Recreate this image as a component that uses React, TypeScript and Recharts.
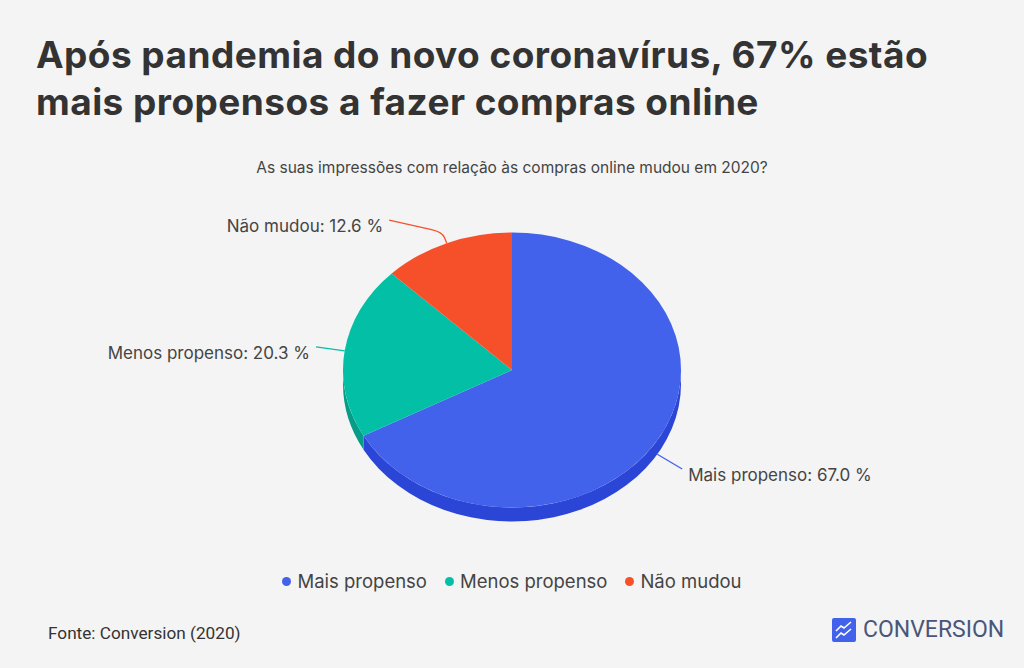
import React from 'react';
import { PieChart, Pie, Legend } from 'recharts';

// survey answers (percent)
const categories = ['Mais propenso', 'Menos propenso', 'Não mudou'];
const shares = [67.0, 20.3, 12.6];
const topColors = ['#4262EC', '#03BFA6', '#F6502B'];
const sideColors = ['#2B45D6', '#079C88', '#D63F1E'];

const data = categories.map((name, i) => ({
  name,
  value: shares[i],
  fill: topColors[i],
  side: sideColors[i],
}));

const RAD = Math.PI / 180;
const TILT = 0.8136; // vertical squash of the pie
const DEPTH = 14; // height of the 3d rim
const textColor = '#444444';

const EllipseSector = (props: any) => {
  const { cx, cy, outerRadius, startAngle, endAngle, fill } = props;
  const side = props.side ?? props.payload?.side ?? fill;
  const rx = outerRadius;
  const ry = outerRadius * TILT;
  const pt = (a: number, dy = 0) => `${cx + rx * Math.cos(a * RAD)},${cy - ry * Math.sin(a * RAD) + dy}`;
  const hi = Math.max(startAngle, endAngle);
  const lo = Math.min(startAngle, endAngle);
  const large = hi - lo > 180 ? 1 : 0;

  const sides: string[] = [];
  for (const k of [-360, 0, 360]) {
    const a = Math.max(lo, -180 + k);
    const b = Math.min(hi, k);
    if (b > a) {
      sides.push(
        `M${pt(b)} A${rx},${ry} 0 0 1 ${pt(a)} L${pt(a, DEPTH)} A${rx},${ry} 0 0 0 ${pt(b, DEPTH)} Z`
      );
    }
  }

  return (
    <g>
      {sides.map((d, i) => (
        <path key={i} d={d} fill={side} stroke="none" />
      ))}
      <path d={`M${cx},${cy} L${pt(hi)} A${rx},${ry} 0 ${large} 1 ${pt(lo)} Z`} fill={fill} stroke="none" />
    </g>
  );
};

const renderLabel = (props: any) => {
  const { cx, cy, midAngle, outerRadius, name, value, fill } = props;
  const rx = outerRadius;
  const ry = outerRadius * TILT;
  const c = Math.cos(midAngle * RAD);
  const s = Math.sin(midAngle * RAD);
  const ax = cx + rx * c;
  const ay = cy - ry * s + (s < 0 ? DEPTH : 0);
  let ex: number;
  let ey: number;
  let d: string;
  if (Math.abs(s) > 0.8) {
    const bx = ax + c * 12;
    const by = ay - s * 12;
    ex = bx + Math.sign(c) * 53;
    ey = by - Math.sign(s) * 12;
    const p1x = ax + (bx - ax) * 0.5;
    const p1y = ay + (by - ay) * 0.5;
    const p2x = bx + (ex - bx) * 0.2;
    const p2y = by + (ey - by) * 0.2;
    d = `M${ax},${ay} L${p1x},${p1y} Q${bx},${by} ${p2x},${p2y} L${ex},${ey}`;
  } else {
    ex = ax + c * 29;
    ey = ay - s * 29;
    d = `M${ax},${ay} L${ex},${ey}`;
  }
  const right = c >= 0;
  return (
    <g>
      <path d={d} stroke={fill} strokeWidth={1.3} fill="none" />
      <text
        x={ex + (right ? 6 : -6)}
        y={ey + 6}
        textAnchor={right ? 'start' : 'end'}
        dominantBaseline="central"
        fill={textColor}
        fontSize={17}
        fontFamily="Inter, sans-serif"
      >
        {`${name}: ${Number(value).toFixed(1)} %`}
      </text>
    </g>
  );
};

const LegendContent = ({ payload }: any) => (
  <div
    style={{
      display: 'flex',
      justifyContent: 'center',
      gap: 18,
      fontFamily: 'Inter, sans-serif',
      fontSize: 18.5,
      color: textColor,
    }}
  >
    {(payload || []).map((e: any) => (
      <span key={e.value} style={{ display: 'flex', alignItems: 'center' }}>
        <span
          style={{
            width: 9,
            height: 9,
            borderRadius: '50%',
            background: e.color,
            marginRight: 6,
            display: 'inline-block',
          }}
        />
        {e.value}
      </span>
    ))}
  </div>
);

export default function App() {
  return (
    <div
      style={{
        position: 'absolute',
        left: 0,
        top: 0,
        width: 1024,
        height: 668,
        background: '#F4F4F4',
        overflow: 'hidden',
      }}
    >
      <div
        style={{
          position: 'absolute',
          left: 36,
          top: 31,
          fontFamily: 'Inter, sans-serif',
          fontWeight: 700,
          fontSize: 37,
          lineHeight: '47px',
          letterSpacing: 0.45,
          color: '#333333',
          whiteSpace: 'nowrap',
        }}
      >
        Após pandemia do novo coronavírus, 67% estão
        <br />
        mais propensos a fazer compras online
      </div>
      <div
        style={{
          position: 'absolute',
          left: 0,
          top: 158,
          width: 1024,
          textAlign: 'center',
          fontFamily: 'Inter, sans-serif',
          fontSize: 15.5,
          lineHeight: '20px',
          color: textColor,
        }}
      >
        As suas impressões com relação às compras online mudou em 2020?
      </div>

      <div style={{ position: 'absolute', left: 0, top: 0 }}>
        <PieChart width={1024} height={668} margin={{ top: 0, right: 0, bottom: 0, left: 0 }}>
          <Pie
            data={data}
            dataKey="value"
            nameKey="name"
            cx={512}
            cy={370}
            outerRadius={169}
            startAngle={90}
            endAngle={-270}
            stroke="none"
            shape={EllipseSector}
            label={renderLabel}
            labelLine={false}
            isAnimationActive={false}
          />
          <Legend
            content={<LegendContent />}
            wrapperStyle={{ position: 'absolute', top: 570, left: 0, width: 1024, bottom: 'auto' }}
          />
        </PieChart>
      </div>

      <div
        style={{
          position: 'absolute',
          left: 48,
          top: 623,
          fontFamily: 'Roboto, sans-serif',
          fontSize: 17.2,
          lineHeight: '20px',
          color: '#333333',
        }}
      >
        Fonte: Conversion (2020)
      </div>
      <div style={{ position: 'absolute', left: 832, top: 616, display: 'flex', alignItems: 'center' }}>
        <svg width={24} height={24}>
          <rect x={0} y={0} width={24} height={24} rx={2} fill="#4262EC" />
          <path d="M4 13 L9 8 L12 10 L19 4" stroke="#fff" strokeWidth={1.6} fill="none" />
          <path d="M4 20 L9 15 L12 17 L19 11" stroke="#fff" strokeWidth={1.6} fill="none" />
        </svg>
        <span
          style={{
            marginLeft: 7,
            fontFamily: 'Roboto, sans-serif',
            fontSize: 23,
            color: '#4A5679',
          }}
        >
          CONVERSION
        </span>
      </div>
    </div>
  );
}
